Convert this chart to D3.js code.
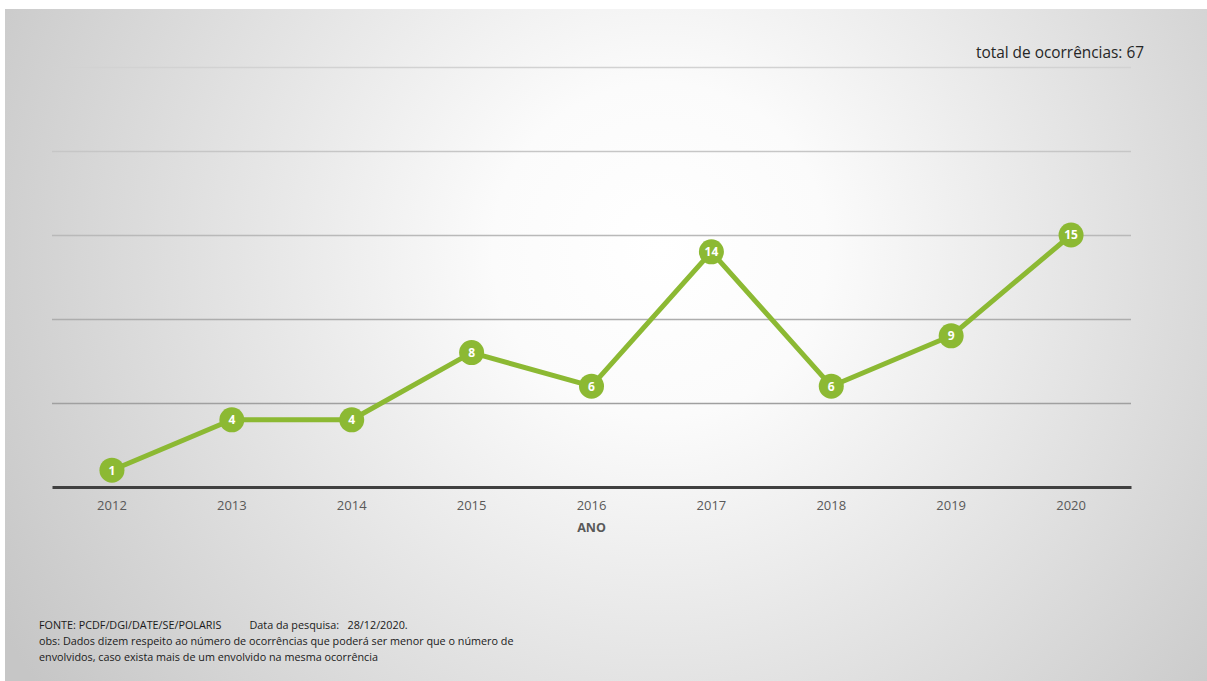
<!DOCTYPE html>
<html>
<head>
<meta charset="utf-8">
<script src="https://cdn.jsdelivr.net/npm/d3@7"></script>
<style>
  html, body { margin: 0; padding: 0; background: #fff; }
  svg { display: block; }
  text { font-family: "Open Sans", "Noto Sans", sans-serif; }
</style>
</head>
<body>
<div id="chart"></div>
<script>
// anos e ocorrências
const years = ['2012', '2013', '2014', '2015', '2016', '2017', '2018', '2019', '2020'];
const occurrences = [1, 4, 4, 8, 6, 14, 6, 9, 15];
const yTicks = [0, 5, 10, 15, 20, 25];
const totalLabel = 'total de ocorrências: 67';
const axisTitle = 'ANO';
const footerLines = [
  'FONTE: PCDF/DGI/DATE/SE/POLARIS          Data da pesquisa:   28/12/2020.',
  'obs: Dados dizem respeito ao número de ocorrências que poderá ser menor que o número de',
  'envolvidos, caso exista mais de um envolvido na mesma ocorrência'
];

const W = 1207, H = 681;
const margin = { left: 52, right: 76, top: 67, bottom: 194 };
const green = '#8cb933';

const svg = d3.select('#chart').append('svg')
  .attr('width', W)
  .attr('height', H);

// fundo com gradiente radial
const defs = svg.append('defs');
const grad = defs.append('radialGradient')
  .attr('id', 'bg')
  .attr('gradientUnits', 'userSpaceOnUse')
  .attr('cx', 660).attr('cy', 250).attr('r', 760);
grad.append('stop').attr('offset', '0').attr('stop-color', '#ffffff');
grad.append('stop').attr('offset', '0.22').attr('stop-color', '#fbfbfb');
grad.append('stop').attr('offset', '1').attr('stop-color', '#c6c6c6');

svg.append('rect')
  .attr('x', 5).attr('y', 9)
  .attr('width', W - 5).attr('height', H - 9)
  .attr('fill', 'url(#bg)');

const x = d3.scaleBand()
  .domain(years)
  .range([margin.left, W - margin.right]);

const y = d3.scaleLinear()
  .domain([0, 25])
  .range([H - margin.bottom, margin.top]);

// linhas de grade (mais claras no topo)
const gridShade = d3.scaleLinear()
  .domain([5, 25])
  .range(['#a0a0a0', '#d2d2d2']);

const yAxis = svg.append('g')
  .attr('transform', `translate(${margin.left},0)`)
  .call(d3.axisLeft(y)
    .tickValues(yTicks.filter(v => v > 0))
    .tickSize(-(W - margin.left - margin.right))
    .tickFormat(''));
yAxis.select('.domain').remove();
yAxis.selectAll('.tick line')
  .attr('stroke', d => gridShade(d))
  .attr('stroke-width', 1.3);

// eixo x
const xAxis = svg.append('g')
  .attr('transform', `translate(0,${y(0)})`)
  .call(d3.axisBottom(x).tickSize(0).tickPadding(14));
xAxis.select('.domain')
  .attr('stroke', '#404040')
  .attr('stroke-width', 3);
xAxis.selectAll('.tick text')
  .attr('fill', '#595959')
  .style('font-size', '13px');

svg.append('text')
  .attr('x', x('2016') + x.bandwidth() / 2)
  .attr('y', 532)
  .attr('text-anchor', 'middle')
  .attr('fill', '#595959')
  .style('font-size', '12.5px')
  .style('font-weight', 'bold')
  .text(axisTitle);

// linha
const line = d3.line()
  .x((d, i) => x(years[i]) + x.bandwidth() / 2)
  .y(d => y(d));

svg.append('path')
  .datum(occurrences)
  .attr('d', line)
  .attr('fill', 'none')
  .attr('stroke', green)
  .attr('stroke-width', 5)
  .attr('stroke-linejoin', 'round');

const pts = svg.selectAll('.pt')
  .data(occurrences)
  .enter().append('g')
  .attr('class', 'pt')
  .attr('transform', (d, i) => `translate(${x(years[i]) + x.bandwidth() / 2},${y(d)})`);

pts.append('circle')
  .attr('r', 12.5)
  .attr('fill', green);

pts.append('text')
  .attr('text-anchor', 'middle')
  .attr('dy', '0.36em')
  .attr('fill', '#ffffff')
  .style('font-size', '12px')
  .style('font-weight', 'bold')
  .text(d => d);

// total
svg.append('text')
  .attr('x', 1144)
  .attr('y', 58)
  .attr('text-anchor', 'end')
  .attr('fill', '#262626')
  .style('font-size', '15.4px')
  .text(totalLabel);

// rodapé
svg.append('g')
  .selectAll('text')
  .data(footerLines)
  .enter().append('text')
  .attr('x', 39)
  .attr('y', (d, i) => 629 + i * 16)
  .attr('fill', '#1a1a1a')
  .style('font-size', '10.8px')
  .style('white-space', 'pre')
  .attr('xml:space', 'preserve')
  .text(d => d);
</script>
</body>
</html>
